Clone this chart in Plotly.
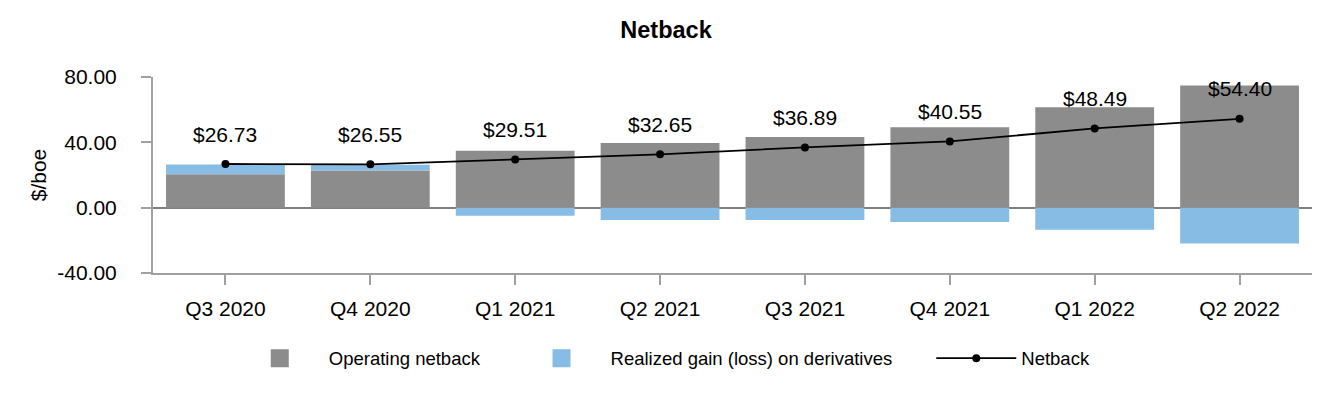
import plotly.graph_objects as go

quarters = ["Q3 2020", "Q4 2020", "Q1 2021", "Q2 2021", "Q3 2021", "Q4 2021", "Q1 2022", "Q2 2022"]
operating_netback = [20.5, 22.7, 34.8, 39.6, 43.3, 49.3, 61.5, 74.8]
realized_gain = [5.9, 3.6, -5.0, -7.5, -7.5, -8.7, -13.5, -22.0]
netback = [26.73, 26.55, 29.51, 32.65, 36.89, 40.55, 48.49, 54.40]
netback_labels = [f"${v:.2f}" for v in netback]
y_ticks = [-40, 0, 40, 80]
y_tick_labels = ["-40.00", "0.00", "40.00", "80.00"]

GRAY = "#8C8C8C"
BLUE = "#87BCE4"
AXIS = "#A0A0A0"
FONT = "Liberation Sans, Arial, sans-serif"

fig = go.Figure()
fig.add_trace(go.Bar(x=quarters, y=operating_netback, marker=dict(color=GRAY, line=dict(width=0)),
                     showlegend=False, name="Operating netback"))
fig.add_trace(go.Bar(x=quarters, y=realized_gain, marker=dict(color=BLUE, line=dict(width=0)),
                     showlegend=False, name="Realized gain (loss) on derivatives"))
fig.add_trace(go.Scatter(x=quarters, y=netback, mode="lines+markers", name="Netback",
                         line=dict(color="black", width=1.8), marker=dict(color="black", size=8),
                         legend="legend3"))
# legend-only entries for the bar series (square swatches)
fig.add_trace(go.Scatter(x=[None], y=[None], mode="markers", name="Operating netback",
                         marker=dict(symbol="square", size=16, color=GRAY, line=dict(color=GRAY, width=2)),
                         legend="legend"))
fig.add_trace(go.Scatter(x=[None], y=[None], mode="markers", name="Realized gain (loss) on derivatives",
                         marker=dict(symbol="square", size=16, color=BLUE, line=dict(color=BLUE, width=2)),
                         legend="legend2"))

for q, v, t in zip(quarters, netback, netback_labels):
    fig.add_annotation(x=q, y=v, text=t, showarrow=False, yshift=30,
                       font=dict(size=21, color="black", family=FONT))

leg_common = dict(orientation="h", yanchor="middle", y=-0.437, xanchor="left",
                  font=dict(size=18.5, color="black", family=FONT), bgcolor="rgba(0,0,0,0)",
                  borderwidth=0)

fig.update_layout(
    width=1332, height=400,
    margin=dict(l=153, r=20, t=77, b=127),
    paper_bgcolor="white", plot_bgcolor="white",
    barmode="relative", bargap=0.18,
    font=dict(family=FONT, color="black"),
    title=dict(text="Netback", x=0.5, xanchor="center", y=1 - 30 / 400, yanchor="middle",
               yref="container", font=dict(size=23.5, weight="bold", color="black", family=FONT)),
    legend=dict(x=0.0671, itemwidth=88, **leg_common),
    legend2=dict(x=0.3102, itemwidth=88, **leg_common),
    legend3=dict(x=0.6715, itemwidth=80, **leg_common),
    xaxis=dict(showline=True, linecolor=AXIS, linewidth=2, ticks="outside", ticklen=10,
               tickcolor=AXIS, tickwidth=2, showgrid=False, tickfont=dict(size=21, color="black"),
               ticklabelstandoff=6),
    yaxis=dict(range=[-40, 80], tickvals=y_ticks, ticktext=y_tick_labels, showline=True, linecolor=AXIS,
               linewidth=2, ticks="outside", ticklen=10, tickcolor=AXIS, tickwidth=2, showgrid=False,
               zeroline=True, zerolinecolor="#808080", zerolinewidth=2,
               tickfont=dict(size=21, color="black"), ticklabelstandoff=20,
               title=dict(text="$/boe", font=dict(size=21, color="black"), standoff=5)),
)

fig.write_html("out.html")
